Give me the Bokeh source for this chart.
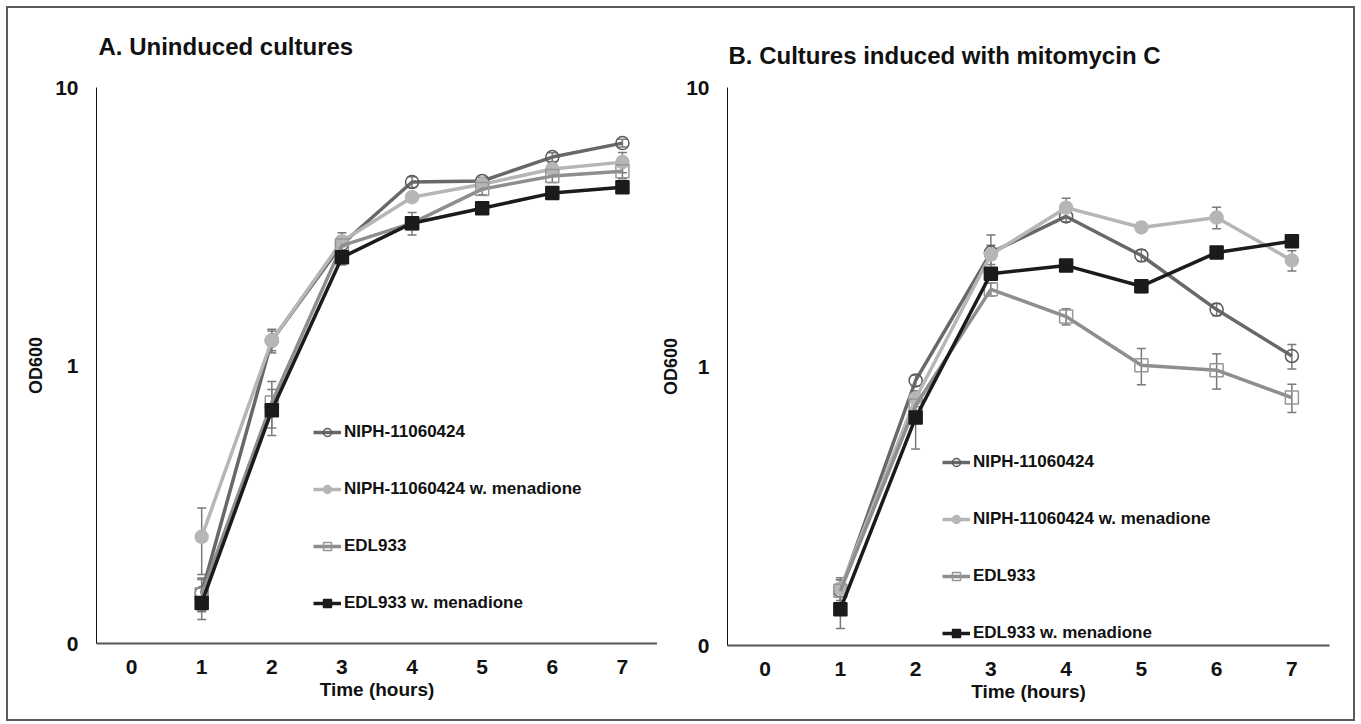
from bokeh.plotting import figure
from bokeh.models import (ColumnDataSource, Whisker, TeeHead, Legend, LegendItem,
                          Range1d, CustomJSTickFormatter, Label)
from bokeh.layouts import row
from bokeh.embed import file_html
from bokeh.resources import INLINE

# ---- data -------------------------------------------------------------
hours = [1, 2, 3, 4, 5, 6, 7]
hour_ticks = [0, 1, 2, 3, 4, 5, 6, 7]
od_ticks = [0.1, 1, 10]

series_names = ["NIPH-11060424", "NIPH-11060424 w. menadione",
                "EDL933", "EDL933 w. menadione"]

# A. uninduced cultures (OD600 means and error)
a_niph = [0.152, 1.23, 2.73, 4.57, 4.61, 5.62, 6.31]
a_niph_err = [0.02, 0.10, 0.15, 0.20, 0.15, 0.20, 0.20]
a_niph_men = [0.242, 1.23, 2.80, 4.03, 4.49, 5.09, 5.39]
a_niph_men_err = [0.065, 0.12, 0.20, 0.15, 0.15, 0.30, 0.45]
a_edl = [0.150, 0.736, 2.70, 3.25, 4.31, 4.80, 5.00]
a_edl_err = [0.02, 0.14, 0.15, 0.15, 0.20, 0.25, 0.30]
a_edl_men = [0.140, 0.69, 2.45, 3.25, 3.68, 4.17, 4.38]
a_edl_men_err = [0.018, 0.13, 0.15, 0.30, 0.10, 0.10, 0.10]

# B. cultures induced with mitomycin C
b_niph = [0.157, 0.891, 2.56, 3.45, 2.50, 1.60, 1.09]
b_niph_err = [0.015, 0.04, 0.40, 0.15, 0.12, 0.08, 0.11]
b_niph_men = [0.160, 0.768, 2.52, 3.71, 3.15, 3.42, 2.40]
b_niph_men_err = [0.015, 0.05, 0.20, 0.30, 0.10, 0.30, 0.20]
b_edl = [0.157, 0.725, 1.89, 1.51, 1.01, 0.97, 0.774]
b_edl_err = [0.015, 0.05, 0.10, 0.10, 0.15, 0.14, 0.09]
b_edl_men = [0.135, 0.656, 2.15, 2.30, 1.94, 2.56, 2.81]
b_edl_men_err = [0.02, 0.15, 0.10, 0.10, 0.10, 0.10, 0.10]

# ---- styling ----------------------------------------------------------
FONT = "Liberation Sans"
styles = [
    dict(line="#686868", marker="circle", fill="#686868", fill_alpha=0.0, outline="#5a5a5a"),
    dict(line="#b6b6b6", marker="circle", fill="#b6b6b6", fill_alpha=1.0, outline="#b6b6b6"),
    dict(line="#8e8e8e", marker="square", fill="#8e8e8e", fill_alpha=0.0, outline="#969696"),
    dict(line="#1b1b1b", marker="square", fill="#1b1b1b", fill_alpha=1.0, outline="#1b1b1b"),
]


def make_panel(title, series, errors, width, height, borders,
               title_pos, legend_loc, legend_spacing, ylabel_standoff):
    left, right, top, bottom = borders
    p = figure(width=width, height=height, y_axis_type="log",
               x_range=Range1d(-0.5, 7.5), y_range=Range1d(0.1, 10),
               output_backend="svg", toolbar_location=None,
               min_border_left=left, min_border_right=right,
               min_border_top=top, min_border_bottom=bottom,
               background_fill_color="white", border_fill_color="white")
    p.outline_line_color = None
    p.grid.visible = False

    # panel heading in the space above the plotting area
    p.add_layout(Label(x=title_pos[0], y=title_pos[1], x_units="screen", y_units="screen",
                       text=title, text_font=FONT, text_font_size="24px",
                       text_font_style="bold", text_color="#111111",
                       text_align="left", text_baseline="alphabetic"), "above")

    # x axis
    xa = p.xaxis[0]
    xa.ticker = hour_ticks
    xa.axis_label = "Time (hours)"
    xa.axis_label_text_font = FONT
    xa.axis_label_text_font_size = "19px"
    xa.axis_label_text_font_style = "bold"
    xa.axis_label_text_color = "#111111"
    xa.axis_label_standoff = 2
    xa.major_label_text_font = FONT
    xa.major_label_text_font_size = "21px"
    xa.major_label_text_font_style = "bold"
    xa.major_label_text_color = "#111111"
    xa.major_label_standoff = 16
    xa.major_tick_line_color = None
    xa.major_tick_in = 0
    xa.major_tick_out = 0
    xa.minor_tick_line_color = None
    xa.axis_line_color = "#555555"
    xa.axis_line_width = 2

    # y axis (log)
    ya = p.yaxis[0]
    ya.ticker = od_ticks
    ya.formatter = CustomJSTickFormatter(
        code="return tick < 0.5 ? '0' : String(Math.round(tick));")
    ya.axis_label = "OD600"
    ya.axis_label_text_font = FONT
    ya.axis_label_text_font_size = "18px"
    ya.axis_label_text_font_style = "bold"
    ya.axis_label_text_color = "#111111"
    ya.axis_label_standoff = ylabel_standoff
    ya.major_label_text_font = FONT
    ya.major_label_text_font_size = "21px"
    ya.major_label_text_font_style = "bold"
    ya.major_label_text_color = "#111111"
    ya.major_label_standoff = 18
    ya.major_tick_line_color = None
    ya.major_tick_in = 0
    ya.major_tick_out = 0
    ya.minor_tick_line_color = None
    ya.axis_line_color = "#111111"
    ya.axis_line_width = 1

    items = []
    for name, vals, errs, st in zip(series_names, series, errors, styles):
        src = ColumnDataSource(dict(
            x=hours, y=vals,
            lo=[v - e for v, e in zip(vals, errs)],
            hi=[v + e for v, e in zip(vals, errs)]))
        w = Whisker(base="x", upper="hi", lower="lo", source=src,
                    dimension="height", line_color="#7a7a7a", line_width=1.5,
                    upper_head=TeeHead(size=9, line_color="#7a7a7a", line_width=1.5),
                    lower_head=TeeHead(size=9, line_color="#7a7a7a", line_width=1.5))
        p.add_layout(w)
        ln = p.line("x", "y", source=src, line_color=st["line"], line_width=3.5)
        sc = p.scatter("x", "y", source=src, marker=st["marker"], size=13,
                       fill_color=st["fill"], fill_alpha=st["fill_alpha"],
                       line_color=st["outline"], line_width=1.5)
        items.append(LegendItem(label=name, renderers=[ln, sc]))

    legend = Legend(items=items, location=legend_loc,
                    background_fill_alpha=0.0, border_line_color=None,
                    label_text_font=FONT, label_text_font_size="17px",
                    label_text_font_style="bold", label_text_color="#111111",
                    glyph_width=28, glyph_height=20, label_height=20,
                    label_standoff=3, spacing=legend_spacing,
                    padding=0, margin=0)
    p.add_layout(legend)
    return p


pa = make_panel("A. Uninduced cultures",
                [a_niph, a_niph_men, a_edl, a_edl_men],
                [a_niph_err, a_niph_men_err, a_edl_err, a_edl_men_err],
                width=649, height=709, borders=(88, 0, 79, 74),
                title_pos=(2, 41),
                legend_loc=(217, 30), legend_spacing=37, ylabel_standoff=6)

pb = make_panel("B. Cultures induced with mitomycin C",
                [b_niph, b_niph_men, b_edl, b_edl_men],
                [b_niph_err, b_niph_men_err, b_edl_err, b_edl_men_err],
                width=696, height=711, borders=(70, 24, 79, 71),
                title_pos=(1, 32),
                legend_loc=(215, 2), legend_spacing=37, ylabel_standoff=2)

layout = row(pa, pb, styles={"border": "2px solid #5a5a5a", "margin": "6px"})

open("out.html", "w").write(file_html(layout, INLINE))
